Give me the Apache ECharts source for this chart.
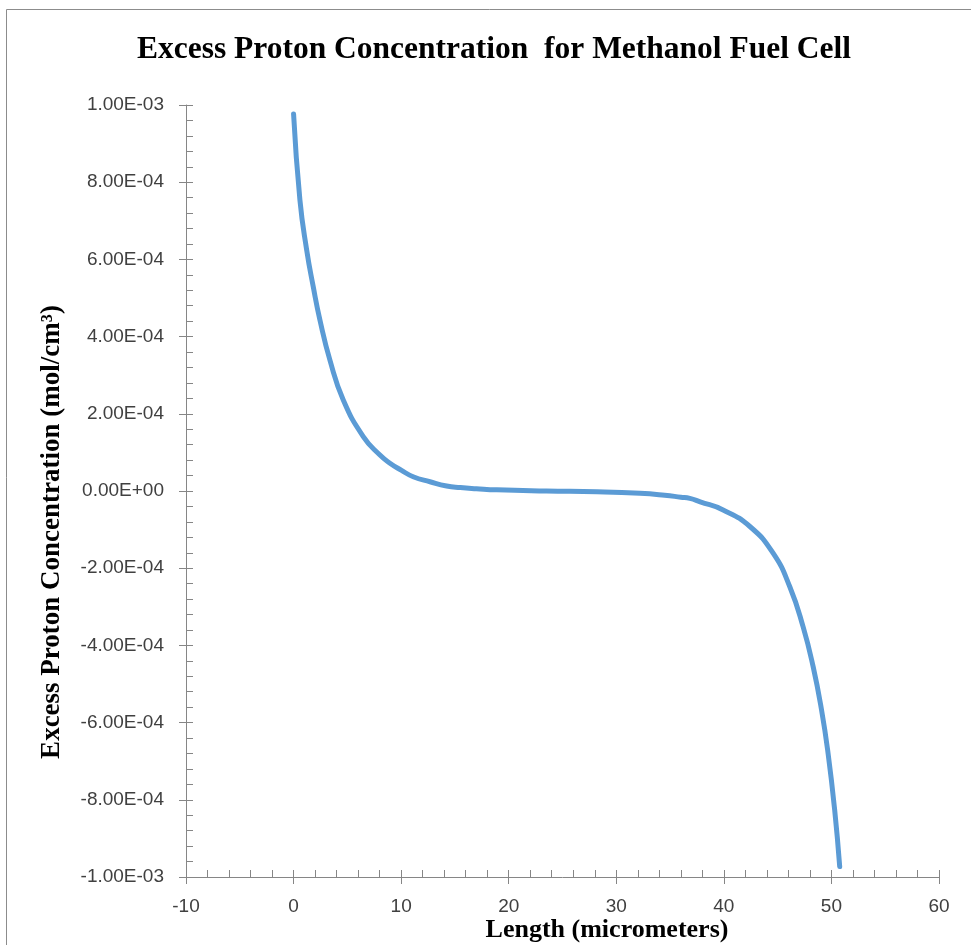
<!DOCTYPE html>
<html>
<head>
<meta charset="utf-8">
<script src="https://cdn.jsdelivr.net/npm/echarts@6/dist/echarts.min.js"></script>
<style>html,body{margin:0;padding:0;background:#fff}#c{width:971px;height:945px}</style>
</head>
<body>
<div id="c"></div>
<script>
// Length (micrometers)
const lengthUm = [0, 0.59, 1.22, 1.83, 2.45, 3.38, 4.62, 6.48, 8.03, 8.96, 10.0, 11.12, 12.68, 14.23, 15.5, 17.0, 18.9, 23.5, 28.2, 32.2, 34.5, 36.0, 36.84, 37.8, 39.93, 42.42, 44.58, 46.13, 47.37, 48.3, 49.08, 49.69, 50.3, 50.77];
// Excess proton concentration (mol/cm^3)
const concentration = [9.77e-4, 7.54e-4, 6.24e-4, 5.29e-4, 4.43e-4, 3.39e-4, 2.36e-4, 1.41e-4, 9.3e-5, 7.2e-5, 5.4e-5, 3.7e-5, 2.4e-5, 1.3e-5, 9e-6, 6e-6, 3e-6, 0, -2e-6, -6e-6, -1.1e-5, -1.6e-5, -1.9e-5, -2.8e-5, -4.9e-5, -9.2e-5, -1.61e-4, -2.48e-4, -3.52e-4, -4.55e-4, -5.67e-4, -6.80e-4, -8.26e-4, -9.73e-4];
const titleText = 'Excess Proton Concentration  for Methanol Fuel Cell';
const xName = 'Length (micrometers)';
const yName = 'Excess Proton Concentration (mol/cm³)';

const data = lengthUm.map((x, i) => [x, concentration[i]]);
function fmtE(v) {
  if (Math.abs(v) < 1e-12) return '0.00E+00';
  const s = v.toExponential(2).split('e');
  const e = parseInt(s[1], 10);
  const es = (e < 0 ? '-' : '+') + String(Math.abs(e)).padStart(2, '0');
  return s[0] + 'E' + es;
}
const axisColor = '#868686';
const labelStyle = {color: '#404040', fontFamily: 'Liberation Sans', fontSize: 19};
const chart = echarts.init(document.getElementById('c'), null, {renderer: 'canvas'});
chart.setOption({
  animation: false,
  backgroundColor: '#fff',
  grid: {left: 186, right: 32, top: 105, bottom: 68, containLabel: false},
  xAxis: [{
    type: 'value', min: -10, max: 60, interval: 10,
    axisLine: {onZero: false, lineStyle: {color: axisColor, width: 1}},
    axisTick: {show: true, inside: false, length: 7, lineStyle: {color: axisColor}},
    axisLabel: Object.assign({margin: 20}, labelStyle),
    splitLine: {show: false}
  }, {
    type: 'value', min: -10, max: 60, interval: 10, position: 'bottom',
    axisLine: {show: false, onZero: false},
    axisTick: {show: true, inside: true, length: 7, lineStyle: {color: axisColor}},
    minorTick: {show: true, splitNumber: 5, length: 7, lineStyle: {color: axisColor}},
    axisLabel: {show: false}, splitLine: {show: false}
  }],
  yAxis: [{
    type: 'value', min: -0.001, max: 0.001, interval: 0.0002,
    axisLine: {show: true, onZero: false, lineStyle: {color: axisColor, width: 1}},
    axisTick: {show: true, inside: false, length: 7, lineStyle: {color: axisColor}},
    axisLabel: Object.assign({margin: 22, formatter: fmtE}, labelStyle),
    splitLine: {show: false}
  }, {
    type: 'value', min: -0.001, max: 0.001, interval: 0.0002, position: 'left',
    axisLine: {show: false, onZero: false},
    axisTick: {show: true, inside: true, length: 7, lineStyle: {color: axisColor}},
    minorTick: {show: true, splitNumber: 5, length: 7, lineStyle: {color: axisColor}},
    axisLabel: {show: false}, splitLine: {show: false}
  }],
  series: [{
    type: 'line', data: data, xAxisIndex: 0, yAxisIndex: 0,
    smooth: 0.5, showSymbol: false, symbol: 'none',
    lineStyle: {color: '#5B9BD5', width: 5, cap: 'round', join: 'round'}
  }],
  graphic: [
    {type: 'rect', shape: {x: 6.5, y: 9.5, width: 1000, height: 1000}, style: {fill: null, stroke: '#8c8c8c', lineWidth: 1}, z: -1},
    {type: 'text', x: 494, y: 50, style: {text: titleText, font: 'bold 31.5px "Liberation Serif"', fill: '#000', align: 'center', verticalAlign: 'middle'}},
    {type: 'text', x: 607, y: 930, style: {text: xName, font: 'bold 26px "Liberation Serif"', fill: '#000', align: 'center', verticalAlign: 'middle'}},
    {type: 'text', x: 52, y: 532, rotation: Math.PI / 2, style: {text: yName, font: 'bold 27px "Liberation Serif"', fill: '#000', align: 'center', verticalAlign: 'middle'}}
  ]
});
</script>
</body>
</html>
